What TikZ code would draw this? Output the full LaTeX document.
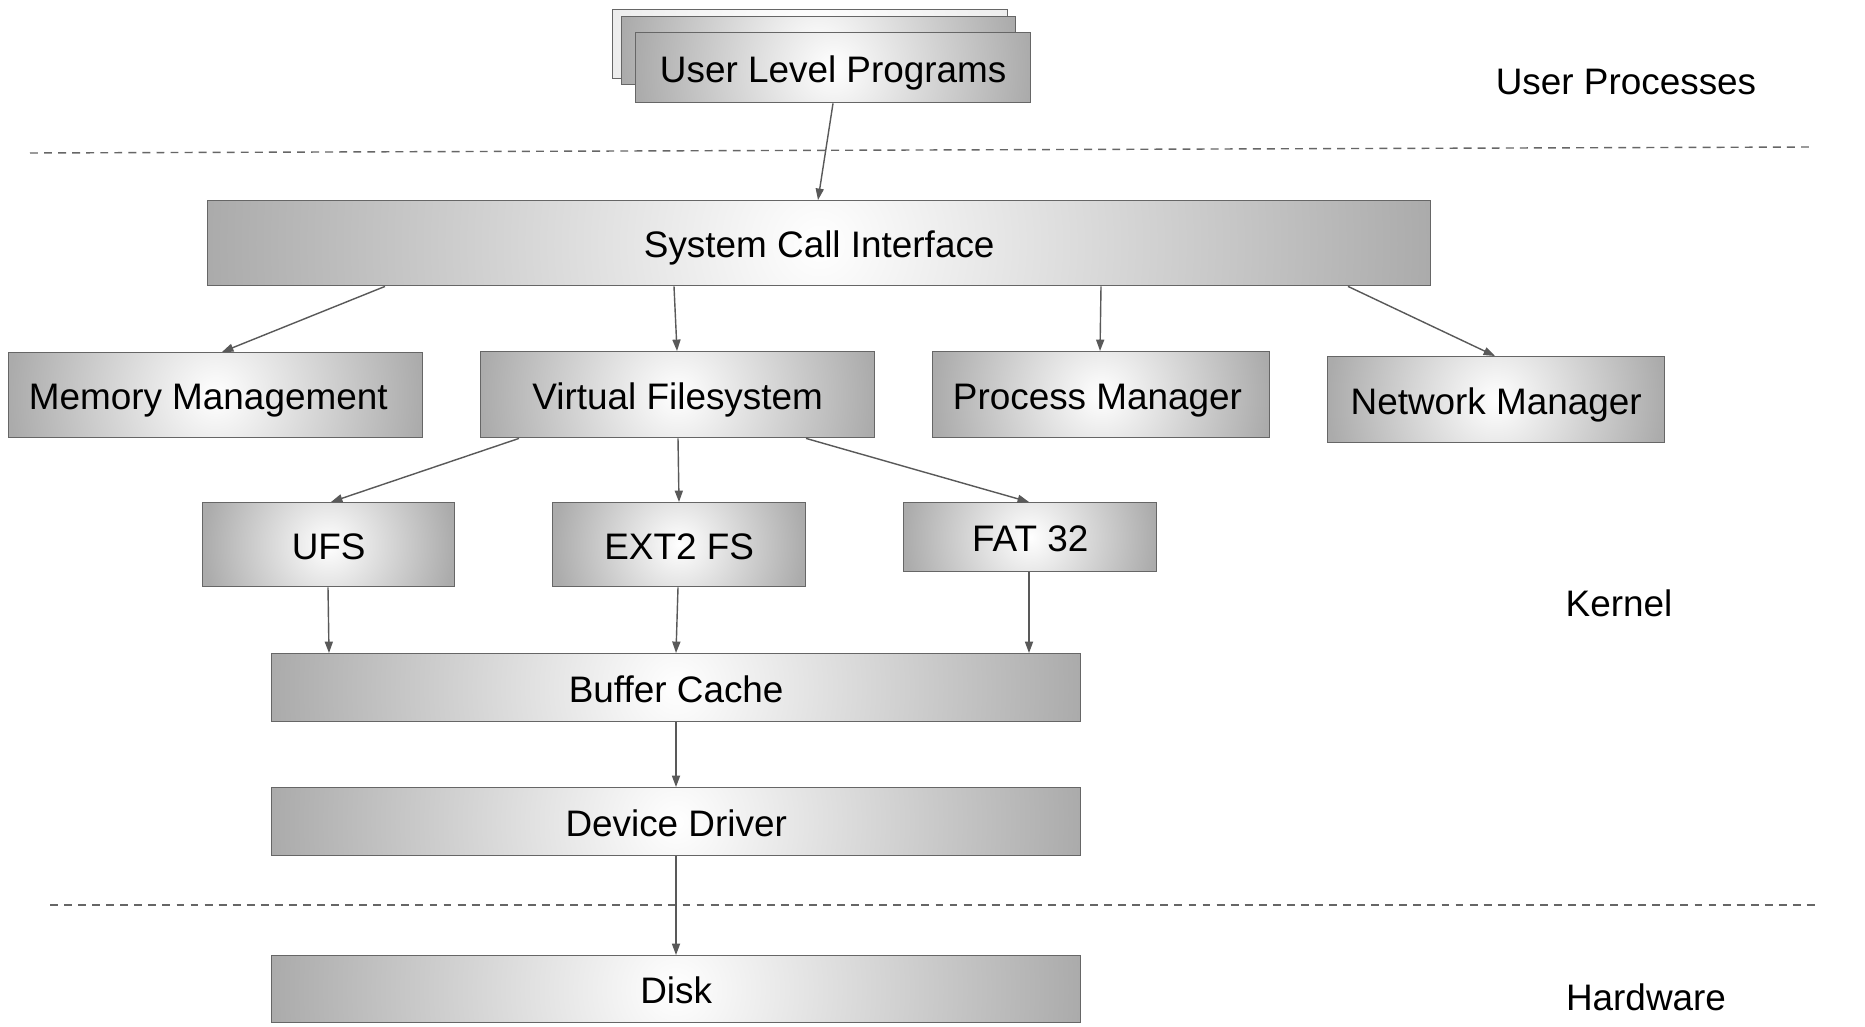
\documentclass[tikz,border=0pt]{standalone}
\usepackage{fontspec}
\setmainfont{Liberation Sans}
\usetikzlibrary{arrows.meta,calc}
\begin{document}
\begin{tikzpicture}[x=0.02cm,y=-0.02cm,
  % circular glow: white centre fading to grey at half the box width
  glow/.style={path picture={
    \shade[inner color=white, outer color=#1]
      let \p1=(path picture bounding box.center),
          \p2=(path picture bounding box.east) in
      (2*\x1-\x2, \y1+\x1-\x2) rectangle (\x2, \y1+\x2-\x1);}},
  box/.style={draw=black!60, line width=0.8pt, inner sep=0pt, anchor=north west,
    glow=black!33, font=\fontsize{21}{25}\selectfont, text=black,
    text height=21pt, text depth=4.5pt},
  sz/.style 2 args={minimum width=#1*0.02cm, minimum height=#2*0.02cm},
  link/.style={draw=black!65, line width=0.8pt,
    -{Triangle[length=6.5pt,width=4.6pt]}},
  layer/.style={draw=black!60, line width=0.8pt, dash pattern=on 4.5pt off 3.5pt},
  tag/.style={font=\fontsize{21}{25}\selectfont, text=black}]
\useasboundingbox (0,0) rectangle (1865,1027);
\fill[white] (0,0) rectangle (1865,1027);

% layer separators
\coordinate (d1a) at (30,153);
\coordinate (d1b) at (1810,147);
\coordinate (d2a) at (50,905);
\coordinate (d2b) at (1816,905);
\draw[layer] (d1a) -- (d1b);
\draw[layer] (d2a) -- (d2b);

% stacked user programs
\node[box, glow=black!7, sz={395}{69}] (back) at (612,9) {};
\node[box, sz={394}{68}] (mid) at (621,16) {};
\node[box, sz={395}{70}] (ulp) at (635,32) {User Level Programs};

% kernel blocks
\node[box, sz={1223}{85}] (sci) at (207,200) {System Call Interface};
\node[box, sz={414}{85}] (mem) at (8,352) {Memory Management\hspace*{0.3cm}};
\node[box, sz={394}{86}] (vfs) at (480,351) {Virtual Filesystem};
\node[box, sz={337}{86}] (proc) at (932,351) {Process Manager\hspace*{0.15cm}};
\node[box, sz={337}{86}] (net) at (1327,356) {Network Manager};
\node[box, sz={252}{84}] (ufs) at (202,502) {UFS};
\node[box, sz={253}{84}] (ext) at (552,502) {EXT2 FS};
\node[box, sz={253}{69}] (fat) at (903,502) {FAT 32};
\node[box, sz={809}{68}] (buf) at (271,653) {Buffer Cache};
\node[box, sz={809}{68}] (drv) at (271,787) {Device Driver};
\node[box, sz={809}{67}] (disk) at (271,955) {Disk};

% layer names
\node[tag] (lup) at (1626,82) {User Processes};
\node[tag] (lker) at (1619,603) {Kernel};
\node[tag] (lhw) at (1646,997) {Hardware};

% connectors
\draw[link] ($(ulp.south west)+(198,0)$) -- ($(sci.north west)+(611,0)$);
\draw[link] ($(sci.south west)+(178,0)$) -- ($(mem.north west)+(214,0)$);
\draw[link] ($(sci.south west)+(467,0)$) -- ($(vfs.north west)+(197,0)$);
\draw[link] ($(sci.south west)+(894,0)$) -- ($(proc.north west)+(168,0)$);
\draw[link] ($(sci.south west)+(1141,0)$) -- ($(net.north west)+(168,0)$);
\draw[link] ($(vfs.south west)+(39,0)$) -- ($(ufs.north west)+(129,0)$);
\draw[link] ($(vfs.south west)+(198,0)$) -- ($(ext.north west)+(127,0)$);
\draw[link] ($(vfs.south west)+(326,0)$) -- ($(fat.north west)+(126,0)$);
\draw[link] ($(ufs.south west)+(126,0)$) -- ($(buf.north west)+(58,0)$);
\draw[link] ($(ext.south west)+(126,0)$) -- ($(buf.north west)+(405,0)$);
\draw[link] ($(fat.south west)+(126,0)$) -- ($(buf.north west)+(758,0)$);
\draw[link] ($(buf.south west)+(405,0)$) -- ($(drv.north west)+(405,0)$);
\draw[link] ($(drv.south west)+(405,0)$) -- ($(disk.north west)+(405,0)$);
\end{tikzpicture}
\end{document}
